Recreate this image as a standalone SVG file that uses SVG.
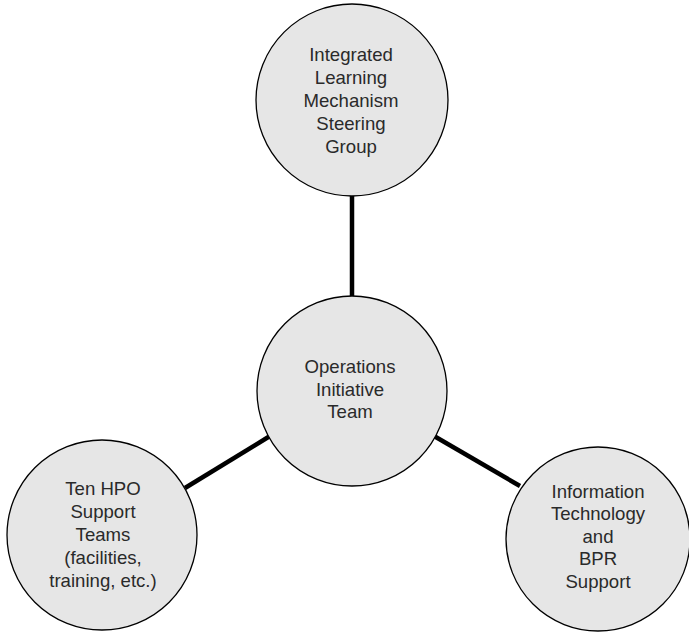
<svg xmlns="http://www.w3.org/2000/svg" width="689" height="632" viewBox="0 0 689 632">
  <style>
    .node circle { fill: #e6e6e6; stroke: #000; stroke-width: 1.3; }
    .node text { font-family: "Liberation Sans", Arial, sans-serif; font-size: 18.6px; fill: #2a2a2a; text-anchor: middle; }
    .link { stroke: #000; stroke-width: 4.5; fill: none; }
  </style>
  <rect width="689" height="632" fill="#fff"/>
  <g id="connectors">
    <line class="link" x1="352" y1="195" x2="352" y2="298"/>
    <line class="link" x1="185" y1="488" x2="270" y2="436"/>
    <line class="link" x1="434" y1="436" x2="520" y2="486"/>
  </g>
  <g id="steering-group" class="node">
    <circle cx="352" cy="100" r="96"/>
    <text x="351" y="61">Integrated</text>
    <text x="351" y="84">Learning</text>
    <text x="351" y="107">Mechanism</text>
    <text x="351" y="130">Steering</text>
    <text x="351" y="153">Group</text>
  </g>
  <g id="operations-team" class="node">
    <circle cx="352" cy="391" r="95"/>
    <text x="350" y="373">Operations</text>
    <text x="350" y="396">Initiative</text>
    <text x="350" y="418">Team</text>
  </g>
  <g id="hpo-support" class="node">
    <circle cx="102" cy="535" r="95"/>
    <text x="103" y="495">Ten HPO</text>
    <text x="103" y="518">Support</text>
    <text x="103" y="541">Teams</text>
    <text x="103" y="564">(facilities,</text>
    <text x="103" y="587">training, etc.)</text>
  </g>
  <g id="it-bpr-support" class="node">
    <circle cx="598" cy="539" r="92"/>
    <text x="598" y="498">Information</text>
    <text x="598" y="520">Technology</text>
    <text x="598" y="543">and</text>
    <text x="598" y="565">BPR</text>
    <text x="598" y="588">Support</text>
  </g>
</svg>
